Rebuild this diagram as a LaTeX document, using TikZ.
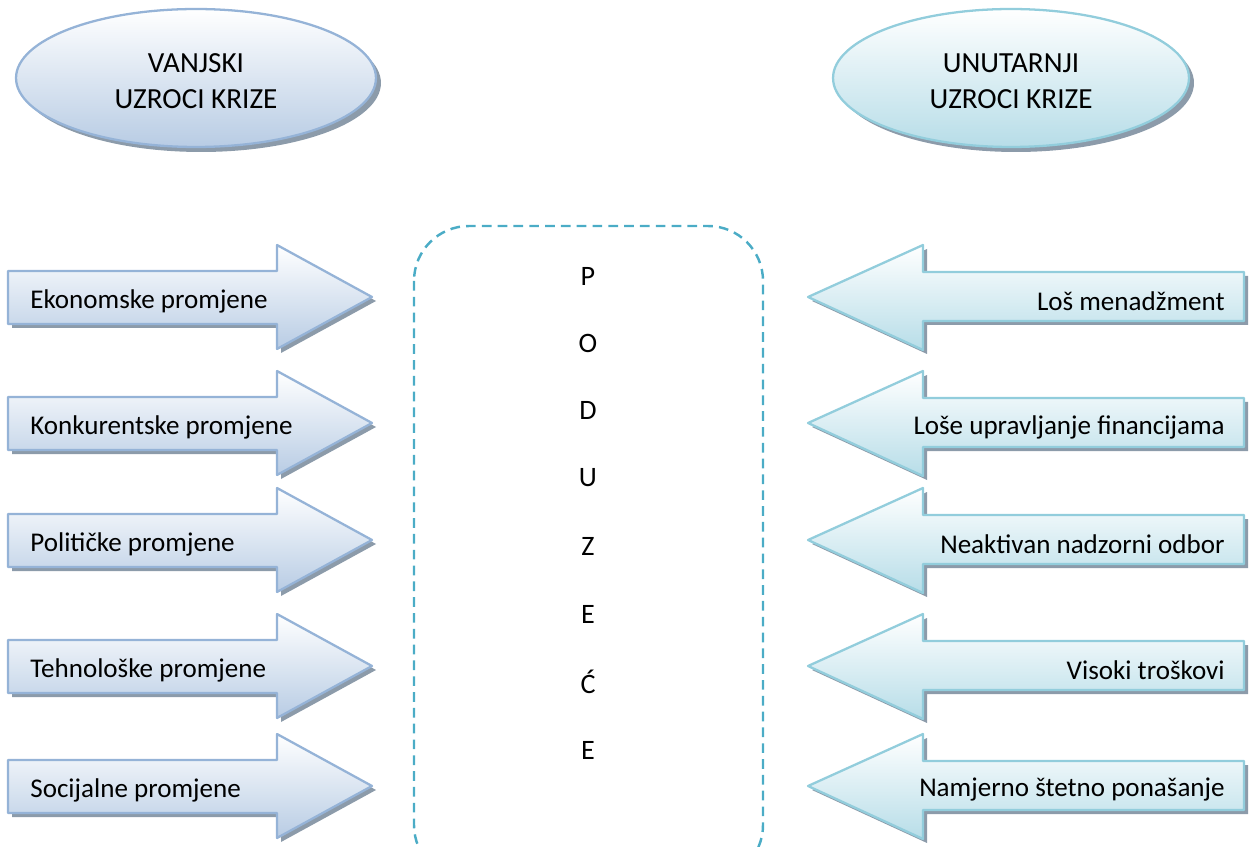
\documentclass[tikz,border=0pt]{standalone}
\usepackage{fontspec}
\setmainfont{Carlito}
\usetikzlibrary{shapes.geometric}
\definecolor{lborder}{HTML}{95B3D7}
\definecolor{lfill}{HTML}{B8CCE4}
\definecolor{rborder}{HTML}{92CDDC}
\definecolor{rfill}{HTML}{B7DDE8}
\definecolor{dashc}{HTML}{4BACC6}
\definecolor{shadowc}{HTML}{8C9BAA}
\tikzset{
  lbox/.style={top color=white, bottom color=lfill, draw=lborder, line width=1.3pt, line join=round},
  rbox/.style={top color=white, bottom color=rfill, draw=rborder, line width=1.3pt, line join=round},
  shad/.style={fill=shadowc},
  lbl/.style={font=\fontsize{15.4}{18}\selectfont, inner sep=0pt},
  letter/.style={font=\fontsize{16}{19}\selectfont, inner sep=0pt},
  oval/.style={ellipse, minimum width=7.2cm, minimum height=2.76cm, inner sep=0pt, font=\fontsize{16.6}{20.5}\selectfont, align=center}
}
\newcommand{\leftarr}[3]{%
  \fill[shad, shift={(4,4)}] (8,#1-26) -- (277,#1-26) -- (277,#1-52) -- (372,#1) -- (277,#1+52) -- (277,#1+27) -- (8,#1+27) -- cycle;
  \shade[lbox] (8,#1-26) -- (277,#1-26) -- (277,#1-52) -- (372,#1) -- (277,#1+52) -- (277,#1+27) -- (8,#1+27) -- cycle;
  \node[lbl, anchor=west] (#2) at (30,#1+4) {#3};
}
\newcommand{\rightarr}[3]{%
  \fill[shad, shift={(4,4)}] (1244,#1-25) -- (923,#1-25) -- (923,#1-52) -- (808,#1) -- (923,#1+53) -- (923,#1+24) -- (1244,#1+24) -- cycle;
  \shade[rbox] (1244,#1-25) -- (923,#1-25) -- (923,#1-52) -- (808,#1) -- (923,#1+53) -- (923,#1+24) -- (1244,#1+24) -- cycle;
  \node[lbl, anchor=east] (#2) at (1225,#1+4) {#3};
}
\begin{document}
\begin{tikzpicture}[x=0.02cm, y=-0.02cm]
\useasboundingbox (0,0) rectangle (1250,847);
% ellipses
\fill[shadowc] (201,83) ellipse [x radius=3.6cm, y radius=1.38cm];
\node[oval, top color=white, bottom color=lfill, draw=lborder, line width=1.3pt] (vanjski) at (196,78) {};
\node[oval, draw=none] at (196,81) {VANJSKI\\UZROCI KRIZE};
\fill[shadowc] (1016,83) ellipse [x radius=3.56cm, y radius=1.38cm];
\node[oval, minimum width=7.12cm, top color=white, bottom color=rfill, draw=rborder, line width=1.3pt] (unutarnji) at (1011,78) {};
\node[oval, draw=none] at (1011,81) {UNUTARNJI\\UZROCI KRIZE};
% dashed box
\draw[dashc, line width=1.4pt, dash pattern=on 5.5pt off 3.5pt, rounded corners=1.1cm] (414,226) rectangle (763,880);
\node[coordinate] (box) at (588,540) {};
% letters
\foreach \l/\yy [count=\i] in {P/276,O/343,D/410,U/478,Z/546,E/614,Ć/682,E/750}
  \node[letter] (let\i) at (588,\yy) {\l};
% left arrows
\leftarr{297}{l1}{Ekonomske promjene}
\leftarr{423}{l2}{Konkurentske promjene}
\leftarr{540}{l3}{Političke promjene}
\leftarr{666}{l4}{Tehnološke promjene}
\leftarr{786}{l5}{Socijalne promjene}
% right arrows
\rightarr{297}{r1}{Loš menadžment}
\rightarr{423}{r2}{Loše upravljanje financijama}
\rightarr{540}{r3}{Neaktivan nadzorni odbor}
\rightarr{666}{r4}{Visoki troškovi}
\rightarr{786}{r5}{Namjerno štetno ponašanje}
\end{tikzpicture}
\end{document}
